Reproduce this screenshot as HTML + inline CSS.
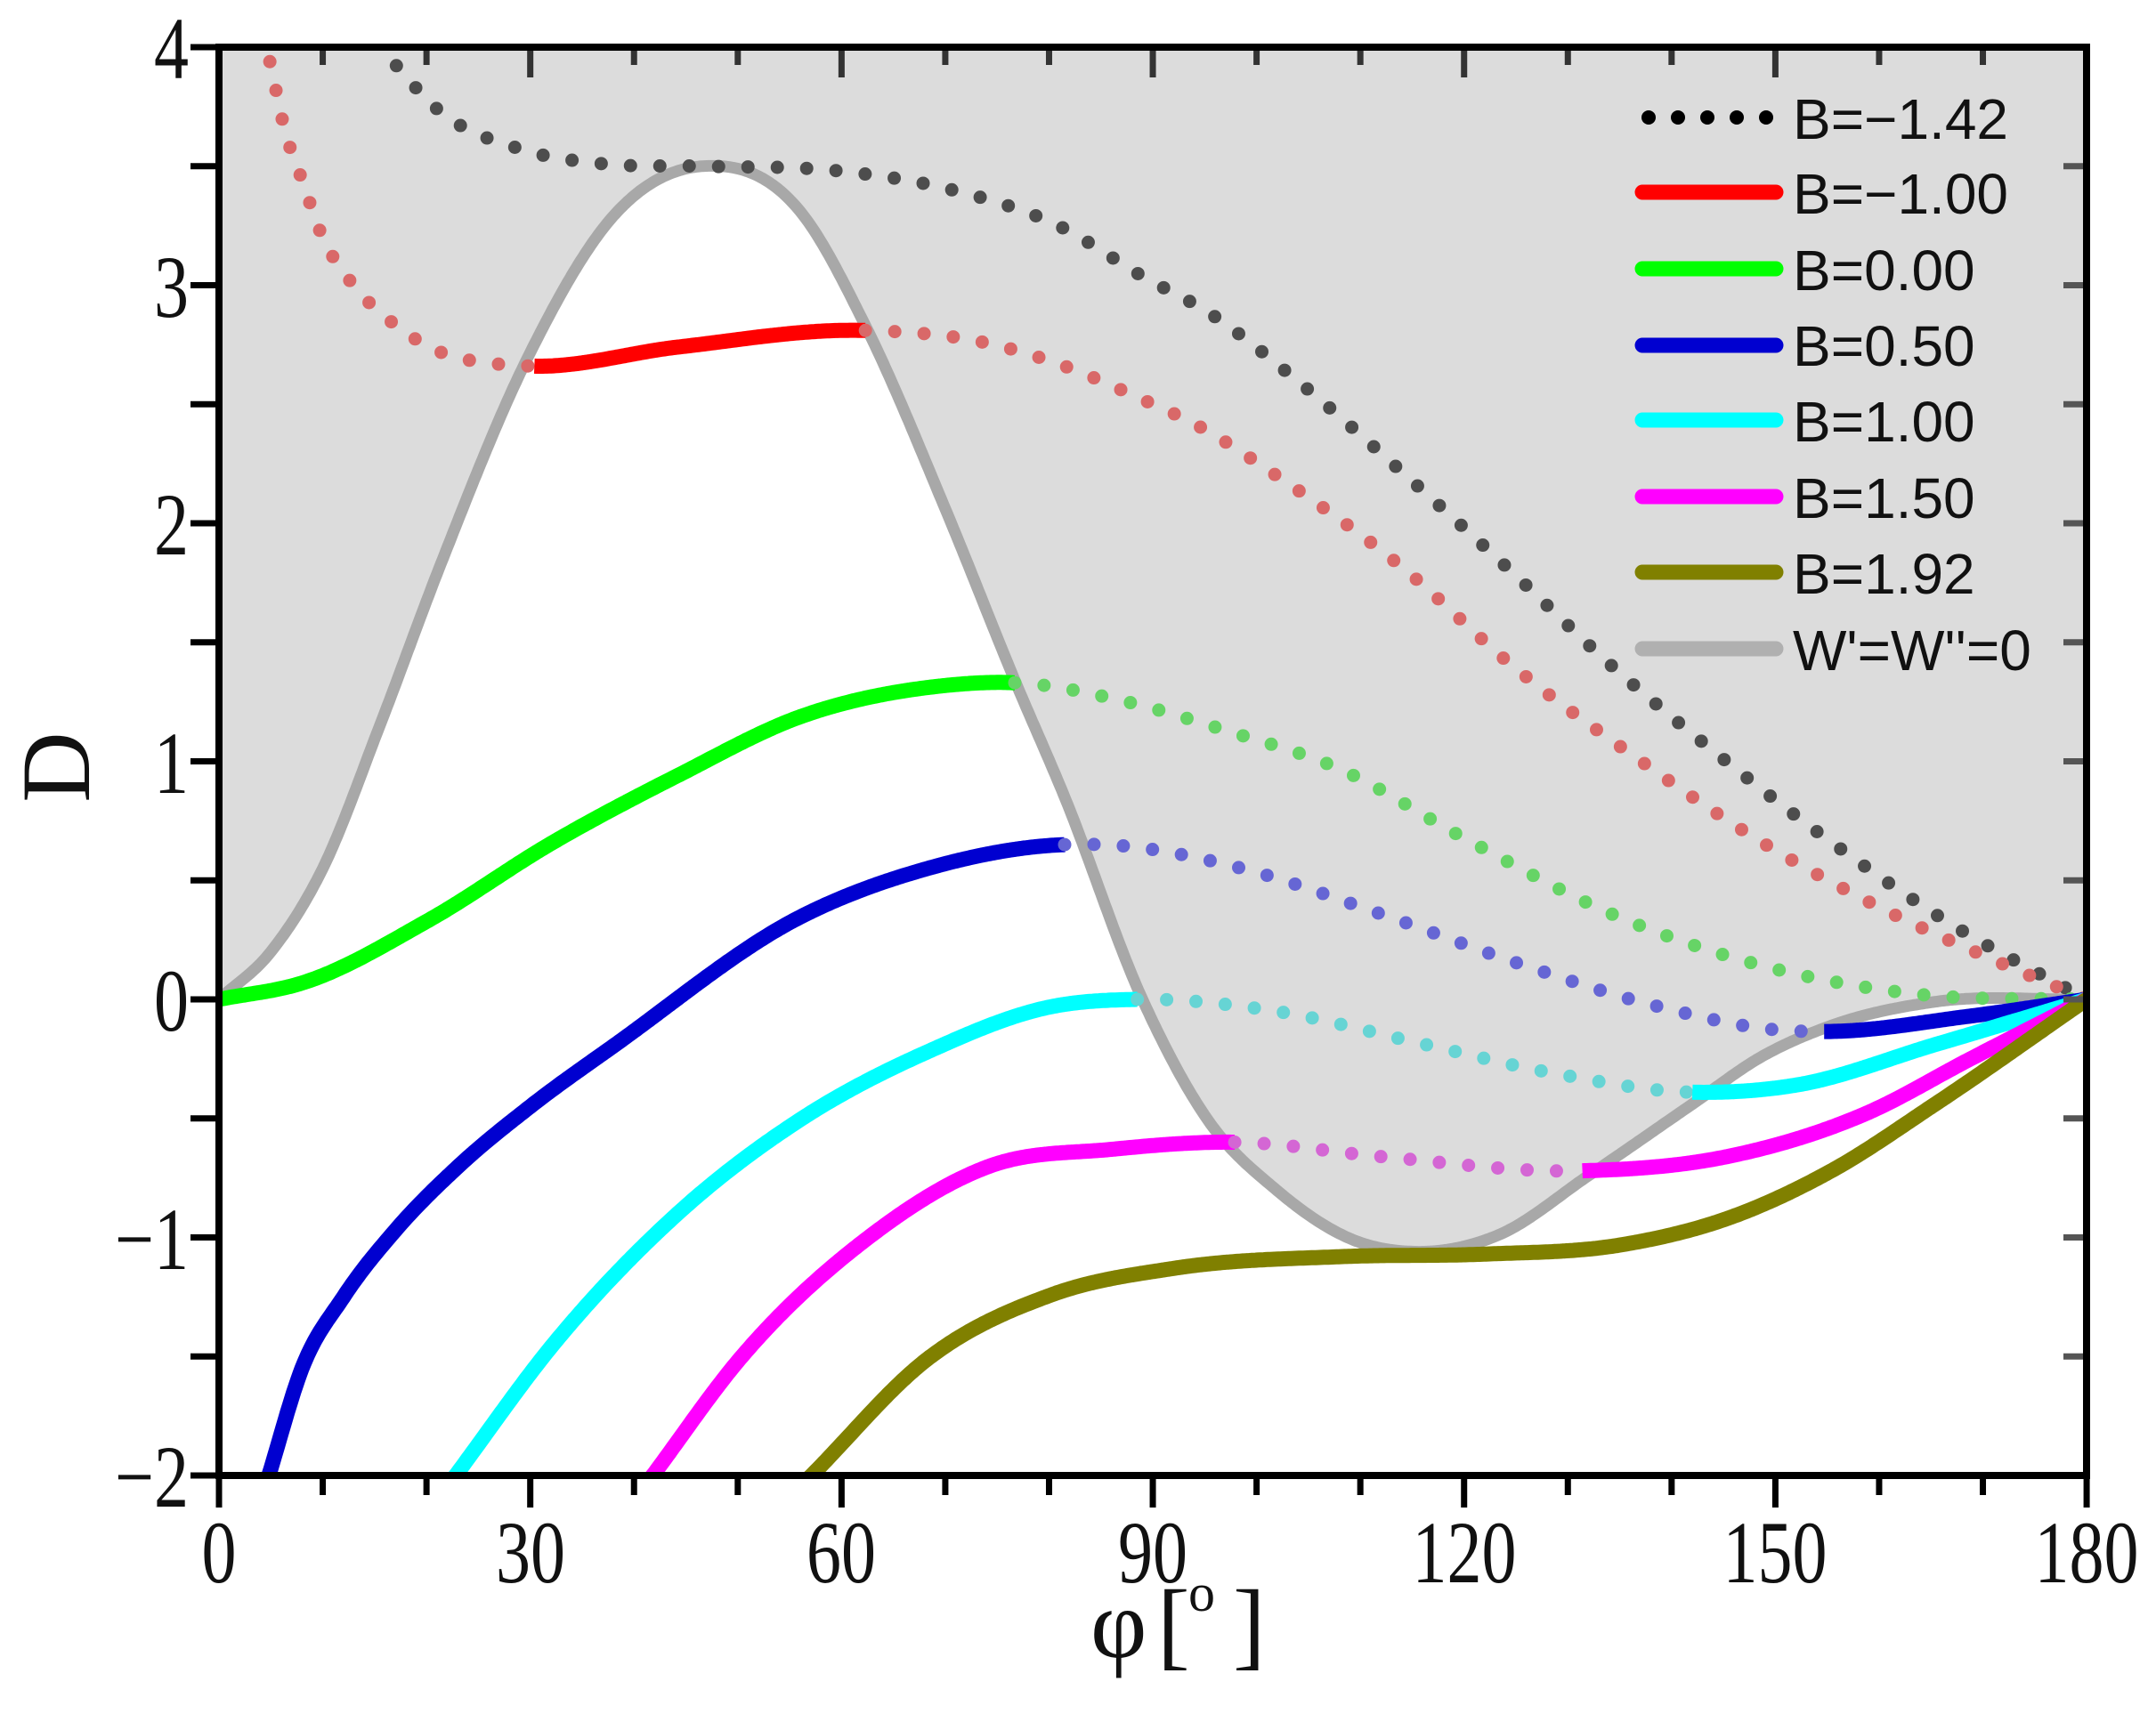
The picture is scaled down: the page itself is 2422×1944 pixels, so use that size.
<!DOCTYPE html>
<html><head><meta charset="utf-8"><style>
html,body{margin:0;padding:0;background:#fff;}
svg{display:block;}
</style></head><body>
<svg id="s" width="2422" height="1944" viewBox="0 0 2422 1944" xmlns="http://www.w3.org/2000/svg">
<defs><clipPath id="pc"><rect x="246" y="53" width="2098" height="1605"/></clipPath></defs>
<rect x="0" y="0" width="2422" height="1944" fill="#fff"/>
<g id="plot" clip-path="url(#pc)"></g>
<g id="ticks" stroke-linecap="butt"></g>
<rect x="246" y="53" width="2098" height="1605" fill="none" stroke="#000" stroke-width="8"/>
<g font-family="Liberation Serif, serif" font-size="100" fill="#111">
<text transform="translate(212,88) scale(0.78,1)" text-anchor="end">4</text>
<text transform="translate(212,356) scale(0.78,1)" text-anchor="end">3</text>
<text transform="translate(212,623) scale(0.78,1)" text-anchor="end">2</text>
<text transform="translate(212,891) scale(0.78,1)" text-anchor="end">1</text>
<text transform="translate(212,1158) scale(0.78,1)" text-anchor="end">0</text>
<text transform="translate(212,1426) scale(0.78,1)" text-anchor="end">−1</text>
<text transform="translate(212,1693) scale(0.78,1)" text-anchor="end">−2</text>
<text transform="translate(246,1778) scale(0.78,1)" text-anchor="middle">0</text>
<text transform="translate(596,1778) scale(0.78,1)" text-anchor="middle">30</text>
<text transform="translate(945,1778) scale(0.78,1)" text-anchor="middle">60</text>
<text transform="translate(1295,1778) scale(0.78,1)" text-anchor="middle">90</text>
<text transform="translate(1645,1778) scale(0.78,1)" text-anchor="middle">120</text>
<text transform="translate(1994,1778) scale(0.78,1)" text-anchor="middle">150</text>
<text transform="translate(2344,1778) scale(0.78,1)" text-anchor="middle">180</text>
<text x="1225" y="1862" font-size="110">φ</text>
<text x="1300" y="1862" font-size="110">[</text>
<text x="1335" y="1810" font-size="60">o</text>
<text x="1385" y="1862" font-size="110">]</text>
<text transform="translate(100,862) rotate(-90)" text-anchor="middle" font-size="110">D</text>
</g>
<g id="legend" font-family="Liberation Sans, sans-serif" font-size="64" fill="#111">
<text x="2014" y="156">B=−1.42</text>
<text x="2014" y="240">B=−1.00</text>
<text x="2014" y="326">B=0.00</text>
<text x="2014" y="411">B=0.50</text>
<text x="2014" y="496">B=1.00</text>
<text x="2014" y="582">B=1.50</text>
<text x="2014" y="667">B=1.92</text>
<text x="2014" y="753">W'=W''=0</text>
</g>
</svg>
<script>
(function(){
var NS="http://www.w3.org/2000/svg";
function X(p){return 246+p*11.656;}
function Y(d){return 1123-d*267.5;}
function el(t,a,par){var e=document.createElementNS(NS,t);for(var k in a)e.setAttribute(k,a[k]);(par||document.getElementById('plot')).appendChild(e);return e;}
function interp(P){
  var n=P.length,m=[];
  for(var i=0;i<n;i++){
    if(i==0){m.push((P[1][1]-P[0][1])/(P[1][0]-P[0][0]));continue;}
    if(i==n-1){m.push((P[i][1]-P[i-1][1])/(P[i][0]-P[i-1][0]));continue;}
    var h0=P[i][0]-P[i-1][0],h1=P[i+1][0]-P[i][0];
    var d0=(P[i][1]-P[i-1][1])/h0,d1=(P[i+1][1]-P[i][1])/h1;
    m.push((h1*d0+h0*d1)/(h0+h1));
  }
  return function(x){
    var i=0;while(i<n-2&&x>P[i+1][0])i++;
    var x0=P[i][0],x1=P[i+1][0],h=x1-x0,t=(x-x0)/h;
    var t2=t*t,t3=t2*t;
    return (2*t3-3*t2+1)*P[i][1]+(t3-2*t2+t)*h*m[i]+(-2*t3+3*t2)*P[i+1][1]+(t3-t2)*h*m[i+1];
  };
}
function pathFor(f,a,b){
  var s="",st=0.2;
  for(var x=a;x<=b+1e-9;x+=st){s+=(s?"L":"M")+X(x).toFixed(1)+","+Y(f(x)).toFixed(1);}
  s+="L"+X(b).toFixed(1)+","+Y(f(b)).toFixed(1);
  return s;
}
var gray=[[0,0],[5,0.2],[10,0.55],[15.5,1.15],[21.3,1.82],[29.8,2.70],[38.2,3.30],[46.6,3.50],[56.2,3.30],[62.3,2.83],[70.1,2.05],[76.7,1.34],[81.5,0.85],[89,0.0],[95.2,-0.50],[101.9,-0.80],[109.9,-1.02],[115.5,-1.06],[123.3,-0.99],[132,-0.74],[142,-0.44],[148.7,-0.24],[155.4,-0.11],[165.4,-0.01],[180,0]];
var gf=interp(gray);
el('path',{d:pathFor(gf,0,180)+"L"+X(180)+",0L"+X(0)+",0Z",fill:"#dcdcdc"});
var curves=[
 {c:"#ff0000",d:"#d96868",P:[[4.6,4.0],[5.1,3.90],[6.3,3.66],[8.1,3.43],[9.9,3.21],[12.6,3.02],[16.5,2.85],[21.3,2.72],[26.7,2.67],[30.4,2.66],[44.2,2.74],[62.3,2.81],[73.7,2.76],[81.5,2.66],[89,2.52],[93.9,2.42],[102.6,2.18],[113.9,1.82],[124.7,1.40],[137.4,0.99],[148.7,0.66],[160.8,0.37],[170.8,0.17],[180,0]],seg:[[4.3,30.4,0],[30.4,62.3,1],[62.3,180,0]]},
 {c:"#00ff00",d:"#66d466",P:[[0,0],[8.1,0.07],[20.1,0.33],[32.2,0.66],[44.2,0.94],[56.2,1.19],[68.3,1.31],[76.7,1.33],[87.5,1.25],[97,1.13],[107.9,0.97],[119.9,0.68],[134.7,0.35],[148,0.15],[164.1,0.02],[180,0]],seg:[[0,76.7,1],[76.7,180,0]]},
 {c:"#0000d0",d:"#6666d4",P:[[4.8,-2.0],[8,-1.55],[12,-1.25],[17,-0.97],[23.1,-0.70],[30,-0.45],[38.2,-0.19],[56.2,0.35],[68.3,0.55],[81.5,0.65],[85.2,0.65],[98.6,0.55],[111.9,0.36],[125.3,0.15],[138.7,-0.03],[150.7,-0.13],[154.7,-0.135],[168.8,-0.07],[180,0]],seg:[[4.6,81.5,1],[81.5,154.7,0],[154.7,180,1]]},
 {c:"#00ffff",d:"#66d4d4",P:[[22.8,-2.0],[32.2,-1.45],[44.2,-0.90],[56.2,-0.50],[68.3,-0.22],[80.3,-0.03],[88.5,0],[101.9,-0.05],[115.3,-0.18],[128.6,-0.31],[142,-0.39],[152,-0.36],[165.4,-0.19],[180,0]],seg:[[22.6,88.5,1],[88.5,142,0],[142,180,1]]},
 {c:"#ff00ff",d:"#d466d4",P:[[41.8,-2.0],[50.2,-1.51],[62.3,-1.01],[74.3,-0.70],[86,-0.63],[97.9,-0.60],[111.9,-0.66],[131.4,-0.72],[145.4,-0.66],[158.7,-0.48],[168.8,-0.25],[180,0]],seg:[[41.6,97.9,1],[97.9,131.4,0],[131.4,180,1]]},
 {c:"#808000",d:"#808000",P:[[57.1,-2.0],[68.3,-1.51],[80.3,-1.24],[92,-1.13],[108.6,-1.08],[122,-1.07],[135.3,-1.03],[145.4,-0.92],[155.4,-0.72],[165.4,-0.44],[180,0]],seg:[[56.9,180,1]]}
];
var bf=interp([[15.5,4.0],[21.3,3.73],[29.2,3.57],[37,3.51],[46.6,3.50],[59.8,3.48],[70.7,3.40],[80.9,3.25],[89.3,3.03],[95.2,2.89],[103.9,2.60],[113.9,2.22],[124,1.82],[134,1.41],[144.7,1.02],[155.4,0.66],[166.8,0.32],[180,0]]);
el('path',{d:pathFor(gf,0,180),fill:"none",stroke:"#a8a8a8","stroke-width":13});
el('path',{d:pathFor(bf,15.2,180),fill:"none",stroke:"#4d4d4d","stroke-width":15,"stroke-linecap":"round","stroke-dasharray":"0 33"});
curves.forEach(function(cv){
  var f=interp(cv.P);
  cv.seg.forEach(function(s){
    if(s[2]) el('path',{d:pathFor(f,s[0],s[1]),fill:"none",stroke:cv.c,"stroke-width":17,"stroke-linecap":"butt","stroke-linejoin":"round"});
    else el('path',{d:pathFor(f,s[0],s[1]),fill:"none",stroke:cv.d,"stroke-width":15,"stroke-linecap":"round","stroke-dasharray":"0 33"});
  });
});
var T=document.getElementById('ticks');
function ln(x1,y1,x2,y2,c,w){el('line',{x1:x1,y1:y1,x2:x2,y2:y2,stroke:c,"stroke-width":w},T);}
for(var d=-2;d<=4.001;d+=0.5){var y=Y(d);ln(214,y,246,y,"#000",7);ln(2344,y,2318,y,"#555",7);}
for(var p=0;p<=180;p+=10){var x=X(p),maj=(p%30==0);
  ln(x,1658,x,1658+(maj?36:22),"#000",7);
  ln(x,53,x,53+(maj?34:20),"#333",7);}
var L=document.getElementById('legend');
for(var i=0;i<5;i++)el('circle',{cx:1852+i*33,cy:132,r:8,fill:"#000"},L);
var lc=["#ff0000","#00ff00","#0000d0","#00ffff","#ff00ff","#808000","#b0b0b0"];
var ly=[216,302,388,472,558,643,729];
for(var j=0;j<7;j++)el('line',{x1:1845,y1:ly[j],x2:1995,y2:ly[j],stroke:lc[j],"stroke-width":17,"stroke-linecap":"round"},L);
})();
</script>
</body></html>
